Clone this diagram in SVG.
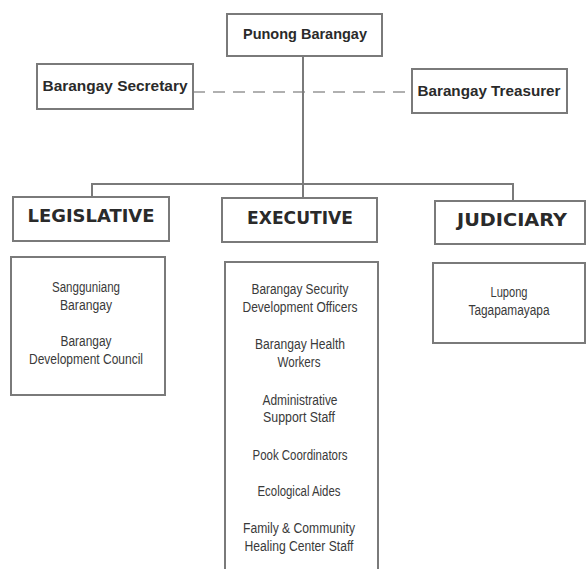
<svg xmlns="http://www.w3.org/2000/svg" width="586" height="569" viewBox="0 0 586 569">
<style>
.box{fill:#fff;stroke:#7a7a7a;stroke-width:2}
.hd{font-family:"Liberation Sans",Arial,sans-serif;font-weight:bold;font-size:15px;fill:#2a2a2a;text-anchor:middle}
.cat{font-family:"DejaVu Sans",Verdana,sans-serif;font-weight:bold;font-size:18px;fill:#2a2a2a;text-anchor:middle}
.it{font-family:"Liberation Sans",Arial,sans-serif;font-size:14px;fill:#3a3a3a;text-anchor:middle}
.ln{fill:none;stroke:#7a7a7a;stroke-width:2}
.dash{fill:none;stroke:#b0b0b0;stroke-width:2;stroke-dasharray:12 8}
</style>
<rect width="586" height="569" fill="#fff"/>
<g id="connectors">
<line class="dash" x1="193" y1="92" x2="412" y2="92"/>
<path class="ln" d="M303 56 V198"/>
<path class="ln" d="M92 197 V184 H513 V201"/>
</g>
<g id="punong">
<rect class="box" x="227" y="14" width="155" height="42"/>
<text class="hd" x="305" y="39" textLength="124" lengthAdjust="spacingAndGlyphs">Punong Barangay</text>
</g>
<g id="secretary">
<rect class="box" x="37" y="64" width="156" height="45"/>
<text class="hd" x="115" y="91" textLength="145" lengthAdjust="spacingAndGlyphs">Barangay Secretary</text>
</g>
<g id="treasurer">
<rect class="box" x="412" y="69" width="155" height="44"/>
<text class="hd" x="489" y="96" textLength="143" lengthAdjust="spacingAndGlyphs">Barangay Treasurer</text>
</g>
<g id="legislative">
<rect class="box" x="13" y="197" width="156" height="44"/>
<text class="cat" x="91" y="222" textLength="127" lengthAdjust="spacingAndGlyphs">LEGISLATIVE</text>
</g>
<g id="executive">
<rect class="box" x="222" y="198" width="155" height="44"/>
<text class="cat" x="300" y="224" textLength="106" lengthAdjust="spacingAndGlyphs">EXECUTIVE</text>
</g>
<g id="judiciary">
<rect class="box" x="435" y="201" width="150" height="43"/>
<text class="cat" x="512" y="226" textLength="110" lengthAdjust="spacingAndGlyphs">JUDICIARY</text>
</g>
<g id="legislative-members">
<rect class="box" x="11" y="257" width="154" height="138"/>
<text class="it" x="86" y="292" textLength="68" lengthAdjust="spacingAndGlyphs">Sangguniang</text>
<text class="it" x="86" y="310" textLength="52" lengthAdjust="spacingAndGlyphs">Barangay</text>
<text class="it" x="86" y="346" textLength="51" lengthAdjust="spacingAndGlyphs">Barangay</text>
<text class="it" x="86" y="364" textLength="114" lengthAdjust="spacingAndGlyphs">Development Council</text>
</g>
<g id="executive-members">
<rect class="box" x="225" y="262" width="153" height="320"/>
<text class="it" x="300" y="294" textLength="97" lengthAdjust="spacingAndGlyphs">Barangay Security</text>
<text class="it" x="300" y="312" textLength="115" lengthAdjust="spacingAndGlyphs">Development Officers</text>
<text class="it" x="300" y="349" textLength="90" lengthAdjust="spacingAndGlyphs">Barangay Health</text>
<text class="it" x="299" y="367" textLength="43" lengthAdjust="spacingAndGlyphs">Workers</text>
<text class="it" x="300" y="405" textLength="75" lengthAdjust="spacingAndGlyphs">Administrative</text>
<text class="it" x="299" y="422" textLength="72" lengthAdjust="spacingAndGlyphs">Support Staff</text>
<text class="it" x="300" y="460" textLength="95" lengthAdjust="spacingAndGlyphs">Pook Coordinators</text>
<text class="it" x="299" y="496" textLength="83" lengthAdjust="spacingAndGlyphs">Ecological Aides</text>
<text class="it" x="299" y="533" textLength="112" lengthAdjust="spacingAndGlyphs">Family &amp; Community</text>
<text class="it" x="299" y="551" textLength="109" lengthAdjust="spacingAndGlyphs">Healing Center Staff</text>
</g>
<g id="judiciary-members">
<rect class="box" x="433" y="263" width="152" height="80"/>
<text class="it" x="509" y="297" textLength="37" lengthAdjust="spacingAndGlyphs">Lupong</text>
<text class="it" x="509" y="315" textLength="81" lengthAdjust="spacingAndGlyphs">Tagapamayapa</text>
</g>
</svg>
